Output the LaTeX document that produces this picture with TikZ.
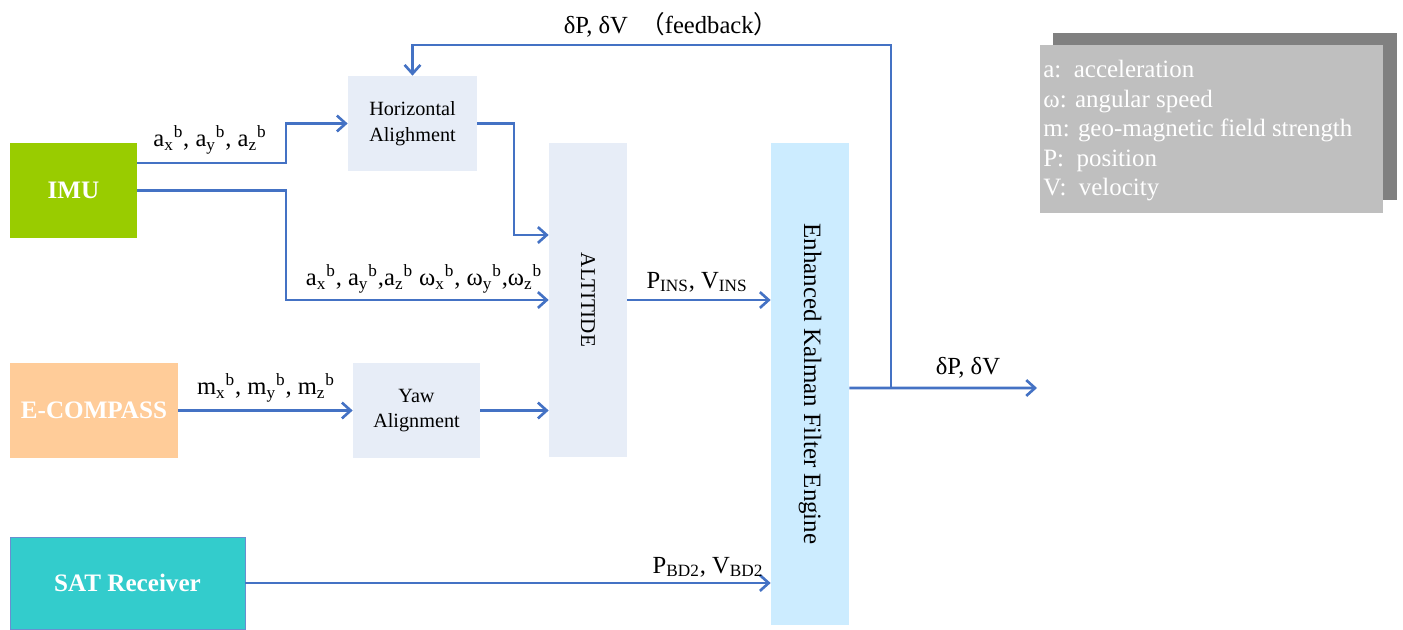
\documentclass[tikz,border=0pt]{standalone}
\usepackage{fontspec}
\setmainfont{Liberation Serif}
\newfontfamily\cjk{Noto Sans CJK SC}
\usetikzlibrary{arrows.meta}

\definecolor{linkblue}{HTML}{4472C4}
\definecolor{imugreen}{HTML}{99CC00}
\definecolor{stagegray}{HTML}{E7EDF7}
\definecolor{ekfblue}{HTML}{CCECFF}
\definecolor{compassorange}{HTML}{FFCC99}
\definecolor{satcyan}{HTML}{33CCCC}

\begin{document}
\begin{tikzpicture} [x=0.02cm, y=-0.02cm,
  sensor/.style = {inner sep=0pt, font=\fontsize{14.3}{18}\selectfont\bfseries, text=white},
  stage/.style = {fill=stagegray, inner sep=0pt, align=center},
  flow/.style = {draw=linkblue, line width=1.6pt, -{Straight Barb[length=5pt, width=9pt, line width=1.5pt]}},
  lbl/.style = {font=\fontsize{14}{17}\selectfont, inner sep=1pt}]
\useasboundingbox (0,0) rectangle (1403,629);

% sources
\node[sensor, fill=imugreen, minimum width=2.54cm, minimum height=1.9cm] (imu) at (73.5,190.5) {IMU};
\node[sensor, fill=compassorange, minimum width=3.36cm, minimum height=1.9cm] (ecomp) at (94,410.5) {E-COMPASS};
\node[sensor, fill=satcyan, draw=linkblue!80, line width=0.5pt, minimum width=4.7cm, minimum height=1.84cm] (sat) at (127.5,583) {SAT Receiver};

% processing stages
\node[stage, font=\fontsize{11.5}{14.5}\selectfont, minimum width=2.58cm, minimum height=1.9cm] (horiz) at (412.5,123.5) {Horizontal\\Alighment};
\node[stage, font=\fontsize{11.5}{14.5}\selectfont, minimum width=2.54cm, minimum height=1.9cm] (yaw) at (416.5,410.5) {Yaw\\Alignment};
\node[stage, font=\fontsize{12}{15}\selectfont, minimum width=1.56cm, minimum height=6.28cm] (alt) at (588,300) {\rotatebox{-90}{ALTITIDE}};
\node[fill=ekfblue, inner sep=0pt, font=\fontsize{14.2}{17}\selectfont, minimum width=1.56cm, minimum height=9.64cm] (ekf) at (810,384) {\rotatebox{-90}{Enhanced Kalman Filter Engine}};

% legend
\node[fill=black!50, minimum width=6.88cm, minimum height=3.34cm, inner sep=0pt] (shadow) at (1225,116.5) {};
\node[fill=black!25, minimum width=6.86cm, minimum height=3.36cm, inner sep=0pt] (legend) at (1211.5,129) {};
\node[anchor=north west, text=white, align=left, inner sep=0pt, font=\fontsize{14.2}{16.8}\selectfont] (legtext) at (1043,60) {a:\ \ acceleration\\ω: angular speed\\m: geo-magnetic field strength\\P:\ \ position\\V:\ \ velocity};

% helper points
\coordinate (j1) at (286,0);
\coordinate (j2) at (514,0);
\coordinate (fb) at (891,388);
\coordinate (fbtop) at (0,45);
\coordinate (out) at (1037,388);
\coordinate (altin) at ([yshift=1.3cm]alt.west);

% connectors
\draw[flow] ([yshift=0.55cm]imu.east) -| (j1 |- horiz.west) -- (horiz.west);
\draw[flow] (imu.east) -| (j1 |- alt.west) -- (alt.west);
\draw[flow] (horiz.east) -| (j2 |- altin) -- (altin);
\draw[flow] (ecomp.east) -- (yaw.west);
\draw[flow] (yaw.east) -- (yaw.east -| alt.west);
\draw[flow] (alt.east) -- (alt.east -| ekf.west);
\draw[flow] (sat.east) -- (sat.east -| ekf.west);
\draw[flow] ([yshift=-0.08cm]ekf.east) -- (out);
\draw[flow] (fb) -- (fb |- fbtop) -| (horiz.north);

% labels
\node[lbl] (lacc) at (210,140) {a\textsubscript{x}\textsuperscript{b}, a\textsubscript{y}\textsuperscript{b}, a\textsubscript{z}\textsuperscript{b}};
\node[lbl] (lall) at (424,279) {a\textsubscript{x}\textsuperscript{b}, a\textsubscript{y}\textsuperscript{b},a\textsubscript{z}\textsuperscript{b} ω\textsubscript{x}\textsuperscript{b}, ω\textsubscript{y}\textsuperscript{b},ω\textsubscript{z}\textsuperscript{b}};
\node[lbl] (lmag) at (266,388) {m\textsubscript{x}\textsuperscript{b}, m\textsubscript{y}\textsuperscript{b}, m\textsubscript{z}\textsuperscript{b}};
\node[lbl] (lins) at (697,282) {P\textsubscript{INS}, V\textsubscript{INS}};
\node[lbl] (lbd) at (708,567) {P\textsubscript{BD2}, V\textsubscript{BD2}};
\node[lbl] (lout) at (968,368) {δP, δV};
\node[lbl] (lfb) at (671,25) {δP, δV \ {\cjk （}feedback{\cjk ）}};
\end{tikzpicture}
\end{document}
